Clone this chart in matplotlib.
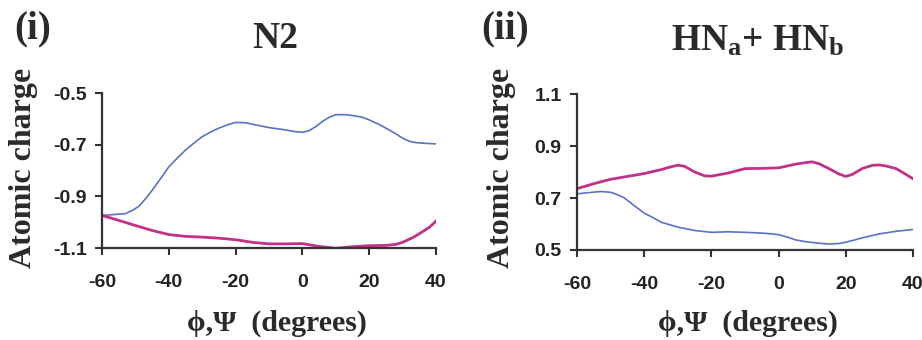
import matplotlib
matplotlib.use("Agg")
import matplotlib.pyplot as plt

plt.rcParams['mathtext.fontset'] = 'custom'
plt.rcParams['mathtext.rm'] = 'Liberation Serif:bold'
plt.rcParams['mathtext.bf'] = 'Liberation Serif:bold'
plt.rcParams['mathtext.it'] = 'Liberation Serif:bold'

# ---- data ----
n2_blue_x = [-60, -55, -53, -51, -49, -47, -45, -42, -40, -37, -35, -32, -30, -27, -25, -22, -20, -17, -15,
             -10, -5, -2, 0, 2, 4, 6, 8, 10, 13, 15, 18, 20, 23, 25, 28, 30, 32, 34, 37, 40]
n2_blue_y = [-0.974, -0.969, -0.967, -0.955, -0.939, -0.910, -0.877, -0.823, -0.786, -0.746, -0.721, -0.689,
             -0.669, -0.648, -0.636, -0.621, -0.614, -0.615, -0.621, -0.634, -0.643, -0.650, -0.652, -0.646,
             -0.630, -0.610, -0.594, -0.584, -0.584, -0.587, -0.594, -0.604, -0.622, -0.636, -0.658, -0.675,
             -0.687, -0.692, -0.695, -0.697]
n2_mag_x = [-60, -55, -50, -45, -40, -35, -30, -25, -20, -15, -10, -5, 0, 5, 10, 15, 20, 25, 28, 30, 33, 35, 38, 40]
n2_mag_y = [-0.974, -0.993, -1.013, -1.032, -1.048, -1.055, -1.058, -1.062, -1.068, -1.078, -1.084, -1.084,
            -1.083, -1.094, -1.101, -1.095, -1.091, -1.090, -1.086, -1.078, -1.060, -1.045, -1.020, -0.996]

hn_mag_x = [-60, -55, -50, -45, -40, -35, -32, -30, -28, -25, -22, -20, -15, -10, -5, 0, 5, 8, 10, 12, 15, 18,
            20, 22, 25, 28, 30, 32, 35, 38, 40]
hn_mag_y = [0.736, 0.755, 0.772, 0.783, 0.794, 0.809, 0.820, 0.826, 0.822, 0.800, 0.785, 0.784, 0.796, 0.813,
            0.814, 0.816, 0.830, 0.836, 0.839, 0.832, 0.813, 0.792, 0.783, 0.791, 0.814, 0.826, 0.827, 0.823,
            0.813, 0.790, 0.774]
hn_blue_x = [-60, -57, -53, -50, -48, -46, -43, -40, -37, -35, -30, -25, -20, -15, -10, -5, -2, 0, 3, 5, 8, 10,
             13, 15, 18, 20, 23, 25, 30, 35, 40]
hn_blue_y = [0.716, 0.720, 0.725, 0.722, 0.713, 0.701, 0.671, 0.642, 0.622, 0.607, 0.588, 0.575, 0.568, 0.570,
             0.568, 0.565, 0.562, 0.559, 0.548, 0.539, 0.532, 0.529, 0.525, 0.523, 0.525, 0.530, 0.540, 0.547,
             0.562, 0.572, 0.579]

x_ticks = [-60, -40, -20, 0, 20, 40]
n2_yticks = [-1.1, -0.9, -0.7, -0.5]
hn_yticks = [0.5, 0.7, 0.9, 1.1]

BLUE = '#5a72c4'
MAG = '#c23088'
SPINE = '#333333'

W, H = 922, 340
fig = plt.figure(figsize=(W / 100, H / 100), dpi=100)

def box(x0, y0, x1, y1):
    return [x0 / W, 1 - y1 / H, (x1 - x0) / W, (y1 - y0) / H]

ax1 = fig.add_axes(box(102, 93, 436, 248))
ax2 = fig.add_axes(box(577, 94, 913, 250))

serif = ['Liberation Serif', 'DejaVu Serif']

def style(ax, yticks, ylim):
    ax.set_xlim(-60, 40)
    ax.set_ylim(*ylim)
    ax.set_xticks(x_ticks)
    ax.set_yticks(yticks)
    ax.set_xticklabels([str(v) for v in x_ticks])
    ax.set_yticklabels([f"{v:.1f}" for v in yticks])
    for s in ['top', 'right']:
        ax.spines[s].set_visible(False)
    for s in ['left', 'bottom']:
        ax.spines[s].set_linewidth(1.6)
        ax.spines[s].set_color(SPINE)
    ax.tick_params(axis='both', direction='out', length=5, width=1.5, color=SPINE,
                   labelsize=14, labelcolor='#222222')
    ax.tick_params(axis='x', pad=14)
    ax.tick_params(axis='y', pad=6)
    for lab in ax.get_xticklabels() + ax.get_yticklabels():
        lab.set_fontfamily('Liberation Sans')
        lab.set_fontweight('bold')

ax1.plot(n2_blue_x, n2_blue_y, color=BLUE, lw=1.2)
ax1.plot(n2_mag_x, n2_mag_y, color=MAG, lw=2.0)
style(ax1, n2_yticks, (-1.1, -0.5))

ax2.plot(hn_mag_x, hn_mag_y, color=MAG, lw=2.0)
ax2.plot(hn_blue_x, hn_blue_y, color=BLUE, lw=1.2)
style(ax2, hn_yticks, (0.5, 1.1))

tc = '#2a2a2a'
fig.text(14 / W, 1 - 29 / H, '(i)', fontsize=28, fontweight='bold', family=serif, color=tc,
         ha='left', va='center')
fig.text(275 / W, 1 - 38 / H, 'N2', fontsize=27, fontweight='bold', family=serif, color=tc,
         ha='center', va='center')
fig.text(481 / W, 1 - 29 / H, '(ii)', fontsize=28, fontweight='bold', family=serif, color=tc,
         ha='left', va='center')
fig.text(758 / W, 1 - 41 / H, r'HN$_{\mathbf{a}}$+ HN$_{\mathbf{b}}$', fontsize=27, fontweight='bold',
         family=serif, color=tc, ha='center', va='center')

for xc in (24, 501):
    fig.text(xc / W, 1 - 168 / H, 'Atomic charge', rotation=90, fontsize=23, fontweight='bold',
             family=serif, color=tc, ha='center', va='center')
for xc in (277, 748):
    fig.text(xc / W, 1 - 323 / H, 'ϕ,Ψ  (degrees)', fontsize=21.5, fontweight='bold',
             family=serif, color=tc, ha='center', va='center')

fig.savefig('out.png', dpi=100, facecolor='white')
